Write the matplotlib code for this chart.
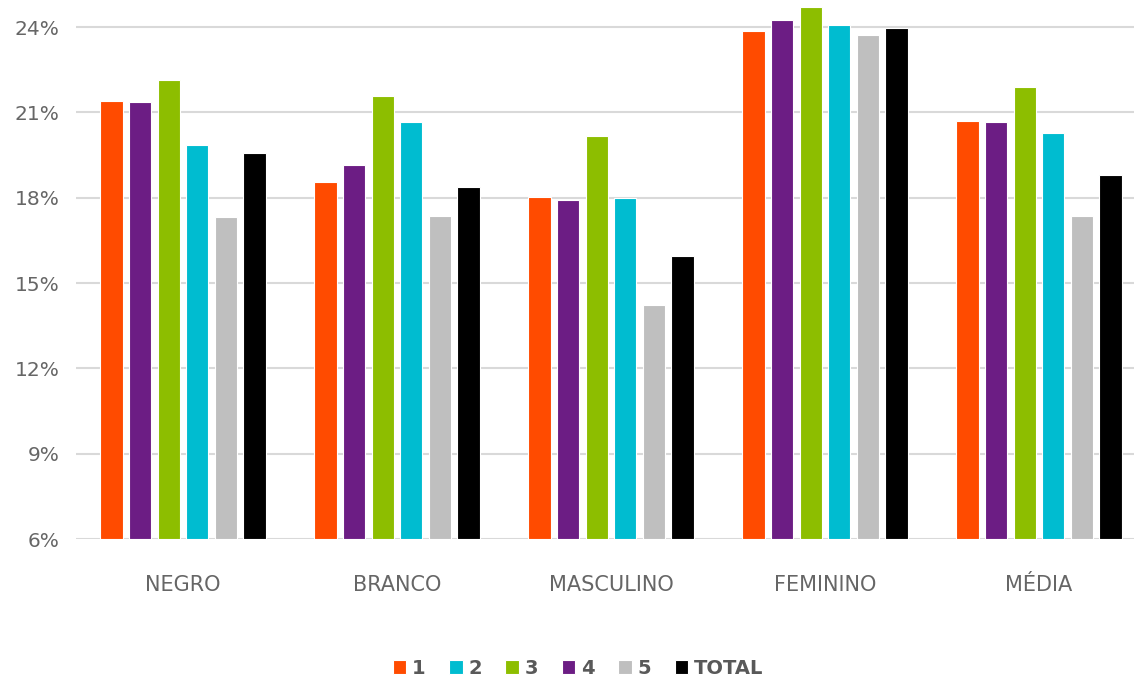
import matplotlib
matplotlib.use('Agg')
import matplotlib.pyplot as plt
import numpy as np

plt.rcParams['font.family'] = ['DejaVu Sans']

categories = ['NEGRO', 'BRANCO', 'MASCULINO', 'FEMININO', 'MÉDIA']

# series in the order the bars sit inside each group
s1 = [21.40, 18.55, 18.02, 23.86, 20.70]
s4 = [21.37, 19.15, 17.92, 24.25, 20.66]
s3 = [22.14, 21.58, 20.17, 24.71, 21.89]
s2 = [19.85, 20.66, 17.99, 24.07, 20.28]
s5 = [17.32, 17.36, 14.23, 23.72, 17.36]
total = [19.57, 18.38, 15.95, 23.97, 18.80]

series = [('1', s1, '#FF4B00'), ('4', s4, '#6C1D84'), ('3', s3, '#8DBE00'),
          ('2', s2, '#00BCD0'), ('5', s5, '#BFBFBF'), ('TOTAL', total, '#000000')]
legend_order = ['1', '2', '3', '4', '5', 'TOTAL']

fig = plt.figure(figsize=(11.34, 6.78), dpi=100)
ax = fig.add_axes([0.067, 0.205, 0.9436, 0.795])

x = np.arange(len(categories))
step = 0.1335
handles = {}
for i, (name, vals, color) in enumerate(series):
    off = (i - 2.5) * step
    b = ax.bar(x + off, np.array(vals) - 6, bottom=6, width=0.104,
               color=color, edgecolor='white', linewidth=0.8, zorder=3)
    handles[name] = b

ax.set_xlim(-0.5, len(categories) - 0.5)
ax.set_ylim(6, 24.95)
ax.set_yticks([6, 9, 12, 15, 18, 21, 24])
ax.set_yticklabels([f'{v}%' for v in [6, 9, 12, 15, 18, 21, 24]])
ax.yaxis.grid(True, color='#D9D9D9', linewidth=1.5, zorder=0)
ax.set_axisbelow(True)
for sp in ax.spines.values():
    sp.set_visible(False)
ax.tick_params(axis='both', length=0, labelcolor='#666666')
ax.tick_params(axis='y', pad=12, labelsize=14.5)
ax.tick_params(axis='x', pad=26, labelsize=15)
ax.set_xticks(x)
ax.set_xticklabels(categories)

fig.legend([handles[k] for k in legend_order], legend_order,
           loc='center', bbox_to_anchor=(578 / 1134, 1 - 668 / 678),
           ncol=6, frameon=False, handlelength=0.7, handleheight=0.7,
           handletextpad=0.3, columnspacing=1.2,
           prop={'size': 14, 'weight': 'bold'}, labelcolor='#595959')

fig.savefig('out.png', dpi=100)
